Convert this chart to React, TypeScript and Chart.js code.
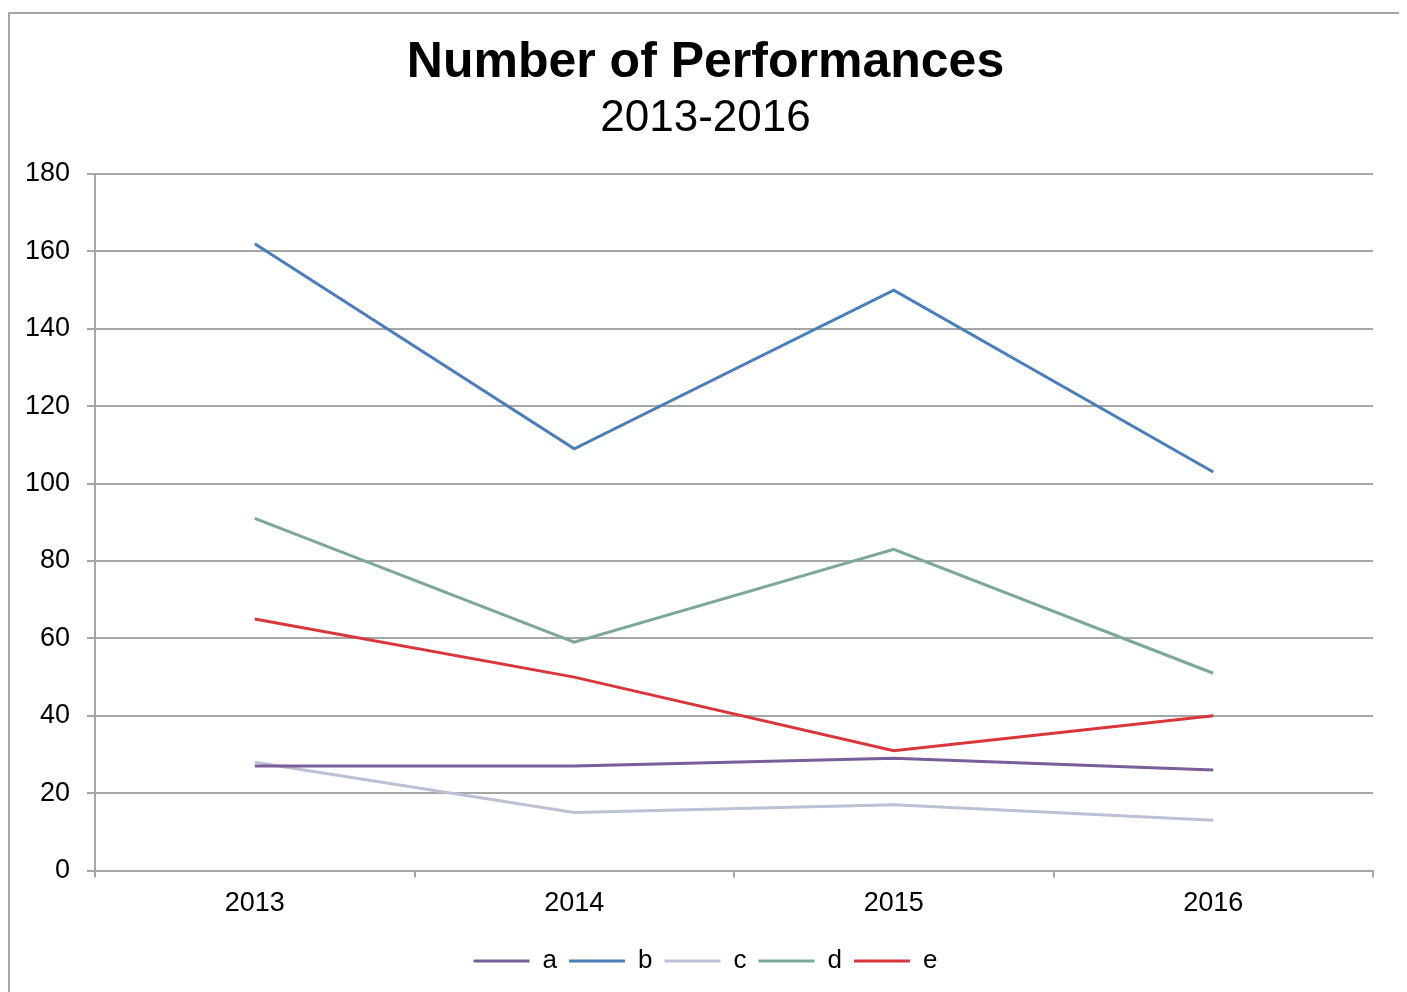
import React, { useEffect, useRef } from "react";
import { Chart, registerables } from "chart.js";

Chart.register(...registerables);

const categories = ["2013", "2014", "2015", "2016"];
const seriesA = [27, 27, 29, 26];
const seriesB = [162, 109, 150, 103];
const seriesC = [28, 15, 17, 13];
const seriesD = [91, 59, 83, 51];
const seriesE = [65, 50, 31, 40];
const seriesNames = ["a", "b", "c", "d", "e"];
const seriesColors = ["#7A5E99", "#4A7EBB", "#BCC0D4", "#7BA79D", "#D9363B"];

const CANVAS_W = 1391;
const CANVAS_H = 985;
const FONT = "'Liberation Sans', Arial, sans-serif";

export default function App() {
  const ref = useRef<HTMLCanvasElement | null>(null);

  useEffect(() => {
    if (!ref.current) return;
    const values = [seriesA, seriesB, seriesC, seriesD, seriesE];
    const chart = new Chart(ref.current, {
      type: "line",
      data: {
        labels: categories,
        datasets: values.map((v, i) => ({
          label: seriesNames[i],
          data: v,
          borderColor: seriesColors[i],
          backgroundColor: seriesColors[i],
          borderWidth: 3,
          pointRadius: 0,
          tension: 0,
          fill: false,
          yAxisID: "y",
        })),
      },
      options: {
        responsive: false,
        animation: false,
        devicePixelRatio: 1,
        layout: { padding: { left: 0, right: 0, top: 0, bottom: 15 } },
        plugins: {
          title: {
            display: true,
            text: "Number of Performances",
            color: "#000",
            font: { family: FONT, size: 50, weight: "bold", lineHeight: 1 },
            padding: { top: 24, bottom: 0 },
          },
          subtitle: {
            display: true,
            text: "2013-2016",
            color: "#000",
            font: { family: FONT, size: 44, weight: "normal", lineHeight: 1 },
            padding: { top: 9, bottom: 33 },
          },
          legend: {
            display: true,
            position: "bottom",
            labels: {
              usePointStyle: true,
              pointStyle: "line",
              pointStyleWidth: 56,
              color: "#000",
              font: { family: FONT, size: 26 },
              padding: 12,
            },
          },
          tooltip: { enabled: false },
        },
        scales: {
          x: {
            offset: true,
            afterFit: (scale: any) => {
              scale.height += 6;
            },
            grid: {
              offset: true,
              drawOnChartArea: false,
              drawTicks: true,
              tickLength: 7,
              color: "#a6a6a6",
              lineWidth: 2,
            },
            border: { display: true, color: "#a6a6a6", width: 2 },
            ticks: {
              color: "#000",
              font: { family: FONT, size: 27 },
              padding: 10,
            },
          },
          y: {
            min: 0,
            max: 180,
            position: "left",
            afterFit: (scale: any) => {
              scale.width = 85;
            },
            grid: {
              color: "#a6a6a6",
              lineWidth: 2,
              drawTicks: true,
              tickLength: 8,
            },
            border: { display: true, color: "#a6a6a6", width: 2 },
            ticks: {
              stepSize: 20,
              color: "#000",
              font: { family: FONT, size: 27 },
              padding: 17,
            },
          },
          yRight: {
            position: "right",
            display: true,
            min: 0,
            max: 180,
            afterFit: (scale: any) => {
              scale.width = 28;
            },
            grid: { display: false, drawTicks: false },
            border: { display: false },
            ticks: { display: false },
          },
        },
      },
    });
    return () => chart.destroy();
  }, []);

  return (
    <div
      style={{
        marginTop: 4,
        width: CANVAS_W,
        height: CANVAS_H,
        border: "2px solid #a6a6a6",
        background: "#fff",
      }}
    >
      <canvas ref={ref} width={CANVAS_W} height={CANVAS_H} style={{ display: "block" }} />
    </div>
  );
}
